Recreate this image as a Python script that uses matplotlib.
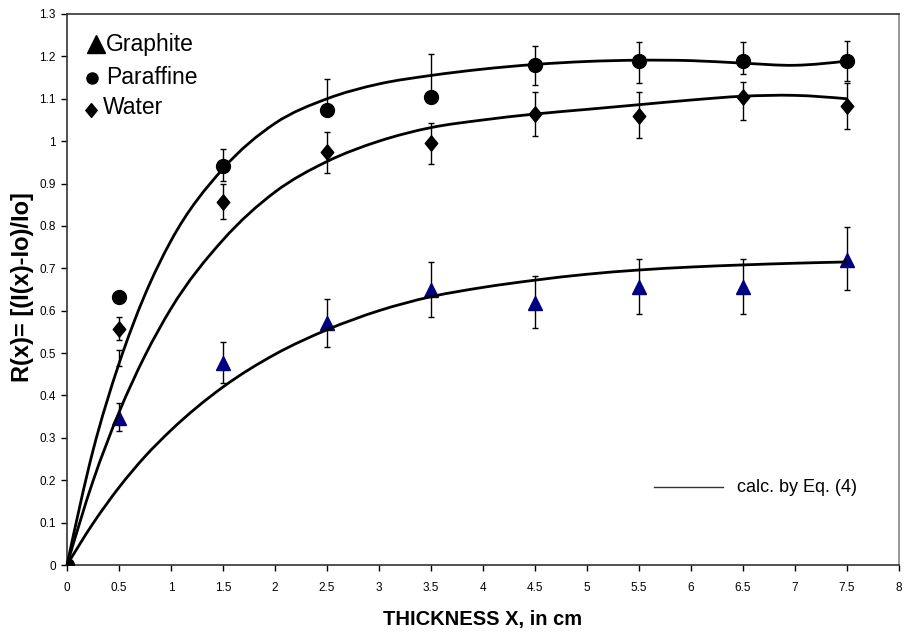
import numpy as np
import matplotlib
matplotlib.use("Agg")
import matplotlib.pyplot as plt
from matplotlib.path import Path
from matplotlib.patches import PathPatch

plt.rcParams["font.family"] = ["Liberation Sans", "DejaVu Sans"]

# measured points
x = [0, 0.5, 1.5, 2.5, 3.5, 4.5, 5.5, 6.5, 7.5]

graphite = [0, 0.347, 0.477, 0.571, 0.649, 0.617, 0.655, 0.655, 0.72]
graphite_lo = [0, 0.315, 0.429, 0.515, 0.586, 0.558, 0.592, 0.592, 0.649]
graphite_hi = [0, 0.383, 0.525, 0.628, 0.716, 0.682, 0.722, 0.722, 0.797]

paraffine = [0, 0.633, 0.941, 1.074, 1.105, 1.18, 1.188, 1.188, 1.188]
paraffine_lo = [0, 0.47, 0.906, 1.08, 1.11, 1.133, 1.138, 1.159, 1.141]
paraffine_hi = [0, 0.507, 0.982, 1.147, 1.206, 1.225, 1.233, 1.235, 1.236]

water = [0, 0.557, 0.857, 0.975, 0.995, 1.064, 1.06, 1.105, 1.083]
water_lo = [0, 0.531, 0.816, 0.926, 0.945, 1.011, 1.008, 1.05, 1.029]
water_hi = [0, 0.584, 0.9, 1.021, 1.044, 1.117, 1.115, 1.14, 1.137]

# calculated curves (Eq. 4)
calc_x = [0, 0.25, 0.5, 0.75, 1, 1.5, 2, 2.5, 3, 3.5, 4, 4.5, 5, 5.5, 6, 6.5, 7, 7.5]
calc_graphite = [0, 0.098, 0.183, 0.256, 0.318, 0.42, 0.497, 0.555, 0.60, 0.633,
                 0.655, 0.672, 0.686, 0.696, 0.703, 0.708, 0.712, 0.715]
calc_paraffine = [0, 0.27, 0.475, 0.638, 0.765, 0.935, 1.042, 1.10, 1.135, 1.155,
                  1.17, 1.181, 1.188, 1.191, 1.19, 1.184, 1.179, 1.189]
calc_water = [0, 0.198, 0.36, 0.494, 0.605, 0.767, 0.88, 0.952, 1.0, 1.032,
              1.05, 1.064, 1.075, 1.086, 1.097, 1.106, 1.108, 1.1]

xticks = np.arange(0, 8.01, 0.5)
yticks = np.arange(0, 1.301, 0.1)

diamond = [(0, 1), (0.82, 0), (0, -1), (-0.82, 0), (0, 1)]


def smooth_path(xs, ys):
    # smoothed line through the read points (cubic bezier segments)
    xs = np.asarray(xs, float)
    ys = np.asarray(ys, float)
    n = len(xs)
    h = np.diff(xs)
    s = np.diff(ys) / h
    m = np.zeros(n)
    for i in range(1, n - 1):
        m[i] = (s[i - 1] * h[i] + s[i] * h[i - 1]) / (h[i - 1] + h[i])
    m[0] = 1.5 * s[0] - 0.5 * m[1]
    m[-1] = 1.5 * s[-1] - 0.5 * m[-2]
    verts = [(xs[0], ys[0])]
    codes = [Path.MOVETO]
    for i in range(n - 1):
        d = h[i] / 3
        verts += [(xs[i] + d, ys[i] + m[i] * d),
                  (xs[i + 1] - d, ys[i + 1] - m[i + 1] * d),
                  (xs[i + 1], ys[i + 1])]
        codes += [Path.CURVE4] * 3
    return Path(verts, codes)


W, H = 905, 633
fig = plt.figure(figsize=(W / 100, H / 100), dpi=100)
ax = fig.add_axes([67 / W, 1 - 565 / H, 832 / W, 551 / H])

for lo, hi in [(graphite_lo, graphite_hi), (paraffine_lo, paraffine_hi), (water_lo, water_hi)]:
    lo = np.array(lo)
    hi = np.array(hi)
    ax.errorbar(x, (lo + hi) / 2, yerr=(hi - lo) / 2, fmt="none", ecolor="black",
                elinewidth=1, capsize=2.5, capthick=1, zorder=2)

ax.plot(x, graphite, "^", color="#000080", ms=10, zorder=3)
ax.plot(x, paraffine, "o", color="black", ms=10, zorder=3)
ax.plot(x, water, marker=diamond, ls="none", color="black", ms=11, zorder=3)

for cy in [calc_graphite, calc_paraffine, calc_water]:
    ax.add_patch(PathPatch(smooth_path(calc_x, cy), fill=False, edgecolor="black",
                           lw=2, zorder=4, clip_on=False))

ax.set_xlim(0, 8)
ax.set_ylim(0, 1.3)
ax.set_xticks(xticks)
ax.set_xticklabels([f"{v:g}" for v in xticks])
ax.set_yticks(yticks)
ax.set_yticklabels([f"{v:g}" for v in np.round(yticks, 1)])
ax.tick_params(axis="x", direction="out", length=4, width=1, labelsize=8.5, pad=8)
ax.tick_params(axis="y", direction="out", length=4, width=1, labelsize=8.5, pad=4)
for s in ax.spines.values():
    s.set_color("#333333")
    s.set_linewidth(1.2)
ax.spines["right"].set_color("#888888")

# legend made of text boxes, like the original
ax.plot([96 / W], [1 - 44 / H], "^", color="black", ms=13, transform=fig.transFigure, clip_on=False)
ax.plot([91.5 / W], [1 - 78 / H], "o", color="black", ms=8, transform=fig.transFigure, clip_on=False)
ax.plot([91 / W], [1 - 110 / H], marker=diamond, color="black", ms=10, transform=fig.transFigure,
        clip_on=False)
fig.text(106 / W, 1 - 44 / H, "Graphite", fontsize=16.5, va="center", ha="left")
fig.text(106 / W, 1 - 77 / H, "Paraffine", fontsize=16.5, va="center", ha="left")
fig.text(103 / W, 1 - 108 / H, "Water", fontsize=16.5, va="center", ha="left")

fig.add_artist(plt.Line2D([654 / W, 723 / W], [1 - 487 / H, 1 - 487 / H], color="#333333",
                          lw=1, transform=fig.transFigure))
fig.text(737 / W, 1 - 487 / H, "calc. by Eq. (4)", fontsize=13, va="center", ha="left")

fig.text(483 / W, 1 - 619 / H, "THICKNESS X, in cm", fontsize=14.5, fontweight="bold",
         ha="center", va="center")
fig.text(23 / W, 1 - 287 / H, "R(x)= [(I(x)-Io)/Io]", fontsize=17, fontweight="bold",
         rotation=90, ha="center", va="center")

fig.savefig("out.png", dpi=100)
